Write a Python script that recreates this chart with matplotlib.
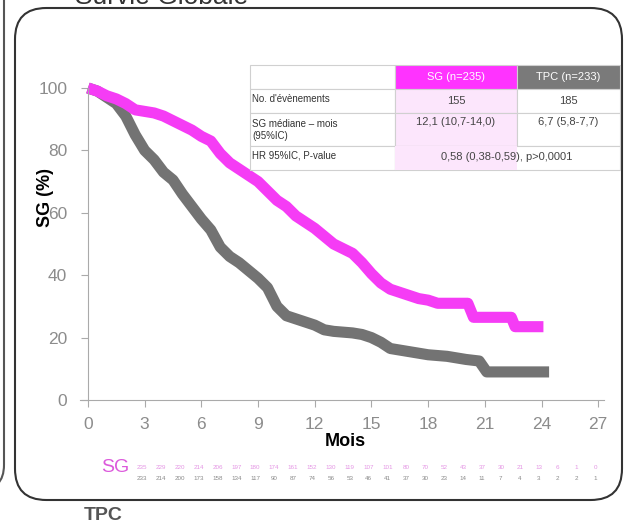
import matplotlib
matplotlib.use('Agg')
import matplotlib.pyplot as plt
from matplotlib.patches import Rectangle, FancyBboxPatch

plt.rcParams['font.family'] = ['Liberation Sans', 'DejaVu Sans']

# courbes de survie (mois, %)
sg_t = [0, 0.5, 1, 1.5, 2, 2.5, 3, 3.5, 4, 4.5, 5, 5.5, 6, 6.5, 7, 7.5, 8, 8.5, 9, 9.5,
        10, 10.5, 11, 11.5, 12, 12.5, 13, 13.5, 14, 14.5, 15, 15.5, 16, 16.5, 17, 17.5,
        18, 18.5, 20.1, 20.4, 22.4, 22.6, 24.1]
sg_s = [100, 99, 97.5, 96.5, 95, 93, 92.5, 92, 91, 89.5, 88, 86.5, 84.5, 83, 79, 76, 74, 72, 70, 67,
        64, 62, 59, 57, 55, 52.5, 50, 48.5, 47, 44, 40.5, 37.5, 35.5, 34.5, 33.5, 32.5,
        32, 31, 31, 26.5, 26.5, 23.5, 23.5]

tpc_t = [0, 0.5, 1, 1.5, 2, 2.5, 3, 3.5, 4, 4.5, 5, 5.5, 6, 6.5, 7, 7.5, 8, 8.5, 9, 9.5,
         10, 10.5, 11, 11.5, 12, 12.5, 13, 14, 14.5, 15, 15.5, 16, 17, 18, 19, 20, 20.7, 21.1, 24.4]
tpc_s = [100, 99, 97, 95, 91, 85, 80, 77, 73, 70.5, 66, 62, 58, 54.5, 49, 46, 44, 41.5, 39, 36,
         30, 27, 26, 25, 24, 22.5, 22, 21.5, 21, 20, 18.5, 16.5, 15.5, 14.5, 14, 13, 12.5, 9, 9]

# patients a risque
sg_risk = [235, 229, 220, 214, 206, 197, 180, 174, 161, 152, 130, 119, 107, 101, 80, 70,
           52, 43, 37, 30, 21, 13, 6, 1, 0]
tpc_risk = [233, 214, 200, 173, 158, 134, 117, 90, 87, 74, 56, 53, 46, 41, 37, 30,
            23, 14, 11, 7, 4, 3, 2, 2, 1]

# tableau
tab_cols = ['SG (n=235)', 'TPC (n=233)']
tab_rows = ["No. d'évènements", 'SG médiane – mois\n(95%IC)', 'HR 95%IC, P-value']
tab_sg = ['155', '12,1 (10,7-14,0)']
tab_tpc = ['185', '6,7 (5,8-7,7)']
tab_hr = '0,58 (0,38-0,59), p>0,0001'

MAG = '#f53cf5'
GRIS = '#737373'
W, H = 626, 530


def fx(x):
    return x / W


def fy(y):
    return 1 - y / H


fig = plt.figure(figsize=(6.26, 5.30), dpi=100)

# cadres arrondis
fig.add_artist(FancyBboxPatch((fx(15), fy(500)), fx(607), (492) / H,
                              boxstyle='round,pad=0,rounding_size=0.05',
                              transform=fig.transFigure, fc='none', ec='#333333', lw=1.5,
                              mutation_aspect=W / H))
fig.add_artist(FancyBboxPatch((fx(-300), fy(490)), fx(304), 540 / H,
                              boxstyle='round,pad=0,rounding_size=0.04',
                              transform=fig.transFigure, fc='none', ec='#555555', lw=1.5,
                              mutation_aspect=W / H))
fig.text(fx(75), fy(4), 'Survie Globale', fontsize=19, color='#333333', va='baseline')

ax = fig.add_axes([fx(80.4), fy(400), 523.5 / W, 312 / H])
ax.plot(tpc_t, tpc_s, color=GRIS, lw=8, solid_capstyle='butt', solid_joinstyle='round',
        clip_on=False)
ax.plot(sg_t, sg_s, color=MAG, lw=8, solid_capstyle='butt', solid_joinstyle='round',
        clip_on=False)

ax.set_xlim(-0.4, 27.3)
ax.set_ylim(0, 100)
ax.set_xticks(range(0, 28, 3))
ax.set_yticks(range(0, 101, 20))
for s in ['top', 'right']:
    ax.spines[s].set_visible(False)
ax.spines['left'].set_position(('data', 0))
ax.spines['left'].set_color('#aaaaaa')
ax.spines['bottom'].set_color('#aaaaaa')
ax.tick_params(colors='#aaaaaa', labelcolor='#8c8c8c', labelsize=12.5, length=5)
ax.tick_params(axis='x', pad=7)
ax.tick_params(axis='y', pad=10)

fig.text(fx(46), fy(198), 'SG (%)', rotation=90, fontsize=13, fontweight='bold',
         ha='center', va='center')
fig.text(fx(345), fy(441), 'Mois', fontsize=13, fontweight='bold', ha='center', va='center')

# nombres a risque
for i, (a, b) in enumerate(zip(sg_risk, tpc_risk)):
    ax.text(i + 2.85, -21.5, str(a), fontsize=4.5, color='#e495e4', ha='center', va='center',
            clip_on=False)
    ax.text(i + 2.85, -25, str(b), fontsize=4.5, color='#8a8a8a', ha='center', va='center',
            clip_on=False)
fig.text(fx(115), fy(467), 'SG', fontsize=14, color='#dc5adc', ha='center', va='center')
fig.text(fx(103), fy(515), 'TPC', fontsize=14, color='#555555', fontweight='bold',
         ha='center', va='center')

# tableau
xs = [250, 395, 517, 620]
ys = [65, 89, 113, 146, 170]
lc = '#d0d0d0'


def cell(x0, x1, y0, y1, fc):
    fig.add_artist(Rectangle((fx(x0), fy(y1)), (x1 - x0) / W, (y1 - y0) / H,
                             transform=fig.transFigure, fc=fc, ec=lc, lw=0.8))


cell(xs[0], xs[1], ys[0], ys[1], 'white')
cell(xs[1], xs[2], ys[0], ys[1], '#ff33ff')
cell(xs[2], xs[3], ys[0], ys[1], '#7a7a7a')
for r in range(3):
    cell(xs[0], xs[1], ys[r + 1], ys[r + 2], 'white')
    if r < 2:
        cell(xs[1], xs[2], ys[r + 1], ys[r + 2], '#fce6fc')
        cell(xs[2], xs[3], ys[r + 1], ys[r + 2], 'white')
    else:
        cell(xs[1], xs[3], ys[r + 1], ys[r + 2], 'white')
        fig.add_artist(Rectangle((fx(xs[1]), fy(ys[r + 2])), (xs[2] - xs[1]) / W,
                                 (ys[r + 2] - ys[r + 1]) / H, transform=fig.transFigure,
                                 fc='#fce6fc', ec='none'))

for j, c in enumerate(tab_cols):
    fig.text(fx((xs[j + 1] + xs[j + 2]) / 2), fy(77), c, color='white', fontsize=8,
             ha='center', va='center')
row_y = [99, 130, 156]
for r, lab in enumerate(tab_rows):
    fig.text(fx(252), fy(row_y[r]), lab, fontsize=7, color='#333333', ha='left', va='center',
             linespacing=1.25)
for r in range(2):
    yy = [101, 122][r]
    fig.text(fx((xs[1] + xs[2]) / 2), fy(yy), tab_sg[r], fontsize=8, color='#444444',
             ha='center', va='center')
    fig.text(fx((xs[2] + xs[3]) / 2), fy(yy), tab_tpc[r], fontsize=8, color='#444444',
             ha='center', va='center')
fig.text(fx(507), fy(157), tab_hr, fontsize=8, color='#444444', ha='center', va='center')

fig.savefig('out.png', dpi=100)
